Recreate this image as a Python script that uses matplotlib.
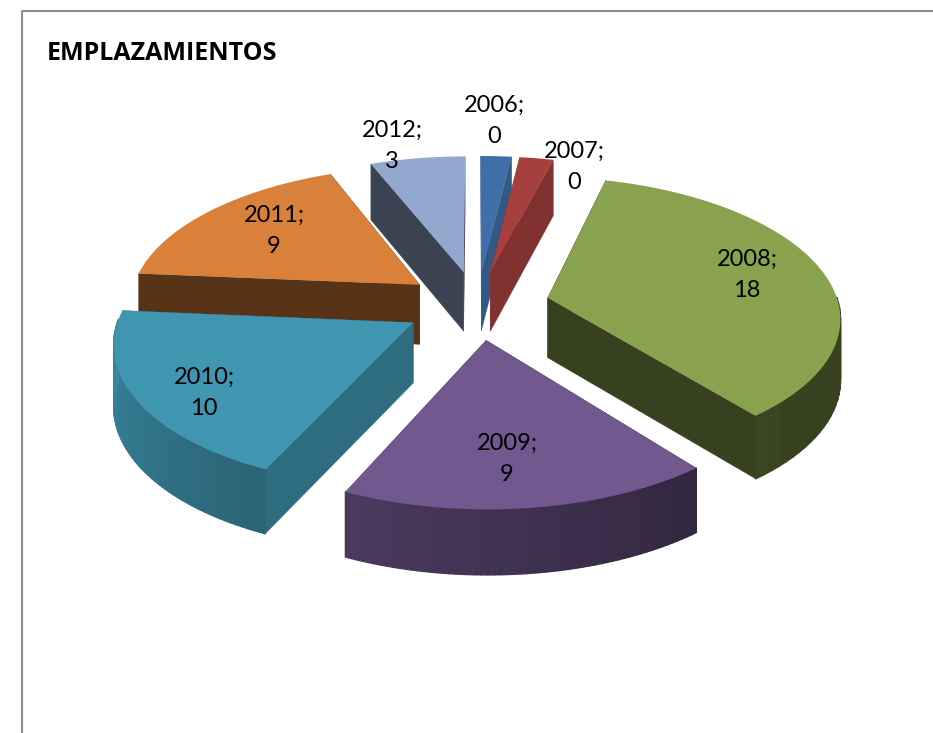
import numpy as np
import matplotlib
matplotlib.use('Agg')
import matplotlib.pyplot as plt
from matplotlib.collections import PolyCollection
from matplotlib.colors import to_rgb

years = ['2006', '2007', '2008', '2009', '2010', '2011', '2012']
shown = [0, 0, 18, 9, 10, 9, 3]
# the two zero slices are still drawn as slivers in the picture
sizes = [1.0, 1.1, 18, 9, 10, 9, 3.1]
colors = ['#3f6fa8', '#a5403e', '#89a24d', '#71588f', '#4096b0', '#d9803a', '#93a8cf']
side_shade = [0.8, 0.78, 0.4, 0.45, 0.72, 0.4, 0.4]

label_pos = [(494, 121), (574, 167), (747, 275), (507, 459), (204, 393), (274, 231), (392, 146)]
draw_order = [0, 1, 6, 5, 2, 4, 3]

# projection of the tilted pie, in pixels
cx, cy = 477, 305
rx, ry = 291, 138
persp = 0.126
depth = 60
explode = 0.25


def project(x, y, z=0.0):
    f = 1 / (1 + persp * y)
    return cx + rx * x * f, cy - ry * y * f + z * depth * np.sqrt(f)


def shade(col, k):
    return tuple(c * k for c in to_rgb(col))


def wall_shade(t):
    return np.clip(0.4 + (t - 130) / 140 * 0.5, 0.4, 0.9)


fig = plt.figure(figsize=(9.33, 7.33), dpi=100)
ax = fig.add_axes([0, 0, 1, 1])
ax.set_xlim(0, 933)
ax.set_ylim(733, 0)
ax.axis('off')

ax.plot([22, 22, 933], [733, 11, 11], color='#8c8c8c', lw=1.5)

edges = np.concatenate([[0], np.cumsum(sizes)]) / sum(sizes) * 360

for layer, i in enumerate(draw_order):
    t0, t1 = edges[i], edges[i + 1]
    mid = np.radians((t0 + t1) / 2)
    ox, oy = explode * np.sin(mid), explode * np.cos(mid)
    ts = np.linspace(t0, t1, 60)
    arc_x = ox + np.sin(np.radians(ts))
    arc_y = oy + np.cos(np.radians(ts))

    # flat side faces
    for t in (t0, t1):
        ex, ey = ox + np.sin(np.radians(t)), oy + np.cos(np.radians(t))
        face = [project(ox, oy), project(ex, ey), project(ex, ey, 1), project(ox, oy, 1)]
        ax.fill(*zip(*face), color=shade(colors[i], side_shade[i]), lw=0.3, zorder=2 + layer)

    # curved outer wall, split in strips so it can shade along the arc
    strips = []
    strip_cols = []
    for k in range(len(ts) - 1):
        if np.cos(np.radians(ts[k])) > 0.02:
            continue
        a = project(arc_x[k], arc_y[k])
        b = project(arc_x[k + 1], arc_y[k + 1])
        c = project(arc_x[k + 1], arc_y[k + 1], 1)
        d = project(arc_x[k], arc_y[k], 1)
        strips.append([a, b, c, d])
        strip_cols.append(shade(colors[i], wall_shade(ts[k])))
    if strips:
        ax.add_collection(PolyCollection(strips, facecolors=strip_cols, edgecolors=strip_cols,
                                         linewidths=1.2, zorder=2 + layer))

    # top surface
    px, py = project(arc_x, arc_y)
    ax0, ay0 = project(ox, oy)
    ax.fill(np.r_[ax0, px], np.r_[ay0, py], color=colors[i], lw=0, zorder=2.5 + layer)

for year, val, pos in zip(years, shown, label_pos):
    ax.text(pos[0], pos[1], f'{year};\n{val}', ha='center', va='center', fontsize=17,
            family='Lato', color='black', linespacing=1.55, zorder=20)

ax.text(47, 54, 'EMPLAZAMIENTOS', ha='left', va='center', fontsize=18, fontweight='bold',
        family='Open Sans', color='black', zorder=20)

fig.savefig('out.png', dpi=100)
